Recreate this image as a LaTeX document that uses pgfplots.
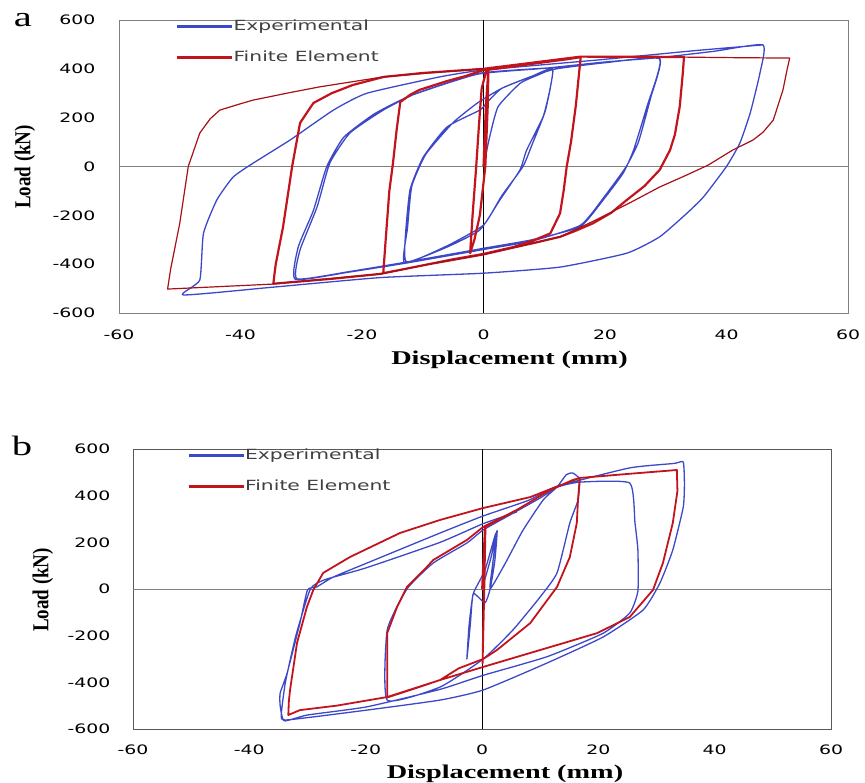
\documentclass[border=0pt]{standalone}
\usepackage{fontspec}
\setmainfont{Liberation Serif}
\usepackage{graphicx}
\usepackage{pgfplots}
\pgfplotsset{compat=1.18}
\newfontfamily\tickfont[FakeStretch=1.45]{DejaVu Sans}
\newfontfamily\legfont[FakeStretch=1.45]{DejaVu Sans}
\newfontfamily\labfont[FakeStretch=1.45]{Liberation Serif}
\definecolor{expblue}{RGB}{60,72,200}
\definecolor{febred}{RGB}{195,20,30}
\pgfplotsset{
  hyst/.style={scale only axis, xmin=-60, xmax=60, ymin=-600, ymax=600,
    major tick length=0pt, tick style={draw=none},
    xtick={-60,-40,-20,0,20,40,60}, xticklabels={-60,-40,-20,0,20,40,60},
    ytick={-600,-400,-200,0,200,400,600}, yticklabels={-600,-400,-200,0,200,400,600},
    ticklabel style={font=\tickfont\fontsize{13}{15}\selectfont},
    extra x ticks={0}, extra x tick labels={}, extra x tick style={grid=major, major grid style={black, line width=0.7pt}},
    extra y ticks={0}, extra y tick labels={}, extra y tick style={grid=major, major grid style={gray, line width=0.7pt}},
    legend image code/.code={\draw[#1, line width=3.2pt] (0pt,0pt) -- (55pt,0pt);},
    legend cell align=left,
    legend style={draw=none, fill=none, inner sep=0pt, row sep=19pt, text=black!75,
      font=\legfont\fontsize{14}{16}\selectfont, nodes={inner sep=0pt},
      at={(rel axis cs:0.077,1)}, anchor=north west},
  }
}
\begin{document}
\begin{tikzpicture}
\path[use as bounding box] (0pt,0pt) rectangle (865pt,-783pt);
% ---------------- panel a ----------------
\begin{axis}[hyst, at={(119pt,-313pt)}, anchor=south west, width=729pt, height=293pt,
  axis line style={draw=black!50, line width=0.8pt},
  xticklabel style={yshift=-13pt}, yticklabel style={xshift=-20pt}]
\addplot[expblue, line width=1.3pt, line join=round, smooth, tension=0.3] coordinates {
(0,0) (1,120) (2.4,245) (6,340) (9,375) (11.4,395) (10.8,300) (9.8,203) (7.1,67) (6,-14) (2.7,-137) (-0.6,-260) (-6,-330) (-12.6,-391)
(-12.9,-301) (-12.1,-96) (-9.9,39) (-6,162) (-0.6,231) (0.5,260) (3,320) (8,370) (11.4,398)
(10.2,230) (8,90) (6.5,0) (3,-120) (0,-240) (-6,-325) (-13,-395)
(-12.5,-250) (-11.8,-80) (-9.5,50) (-5,180) (-1,260) (3,320) (8,370) (12,400) (20,425) (29,440)
(26.9,245) (24.7,67) (23,-27) (19.7,-137) (15.9,-247) (8,-300) (0,-335) (-12.6,-391) (-22,-430) (-30.7,-460)
(-30.2,-342) (-27.4,-166) (-25.3,14) (-22,137) (-16.5,231) (-11,300) (-0.6,382) (11.4,405) (20,425) (29,442)
(27.5,280) (25.5,100) (23.5,0) (20,-120) (16,-240) (8,-305) (0,-340) (-12.6,-395) (-22,-432) (-31,-462)
(-30.5,-330) (-28,-180) (-25.8,0) (-23,120) (-18,215) (-12,290) (-1,378) (10,402) (20,428) (29,446) (38,472) (46,498)
(45.5,382) (43.9,219) (42.2,96) (40,0) (36.2,-125) (33.5,-191) (29,-288) (23.6,-355) (12.6,-412) (0,-437) (-17,-455) (-35,-495) (-49.4,-526)
(-46.7,-465) (-46.1,-274) (-43.9,-137) (-41.2,-43) (-37.9,14) (-31.8,109) (-24.7,231) (-19.2,300) (-7.2,367) (0,395) (18.7,436) (35,475) (46,498)
};
\addlegendentry{Experimental}
\addplot[febred, line width=2.2pt, line join=round] coordinates {
(0,0) (0.4,250) (0.8,395) (0.7,250) (0.3,0) (-0.6,-200) (-1.5,-300) (-2.2,-355) (-1.8,-200) (-1.2,0) (-0.8,150) (-0.6,220) (-0.3,320) (0.5,395)
(5,410) (10,427) (14,440) (16,448) (15.6,350) (15.2,250) (14.4,100) (13.7,0) (13.2,-98) (12.6,-192) (11,-274) (8,-305) (4.9,-330) (0,-358) (-5,-380) (-9,-400) (-13,-420) (-16.5,-437)
(-16.1,-300) (-15.5,-100) (-14.9,14) (-14.3,150) (-13.7,264) (-12,295) (-10.5,314) (-6,350) (-3,370) (0,395) (5,410) (10,427) (16,450)
(25,450) (33,448) (32.8,380) (32.3,245) (31.5,130) (30.7,67) (29,-14) (26.5,-80) (23.6,-137) (21,-190) (18,-233) (15,-265) (12.6,-288) (8,-315) (4.9,-332) (0,-360) (-9,-400) (-17,-440) (-25,-460) (-34.6,-480)
(-34.2,-400) (-33,-248) (-31.5,0) (-30.2,178) (-28,260) (-25,300) (-21.5,334) (-16.4,367) (-10,383) (0,400) (8,425) (16,450) (33,448)
};
\addlegendentry{Finite Element}
\addplot[febred!85!black, line width=1.2pt, line join=round, forget plot] coordinates {
(33,448) (40,446) (50.4,444) (50,400) (49.3,314) (47.7,190) (46,140) (44.4,109) (41,67) (37,6) (33,-40) (29,-84) (24,-150) (18,-225) (12.6,-288) (5,-332) (0,-360) (-9,-400) (-17,-440) (-35,-482) (-52,-502)
(-51.5,-420) (-50,-233) (-48.6,0) (-46.7,137) (-45,195) (-43.4,231) (-40,257) (-37.9,272) (-32,302) (-27,326) (-16.5,367) (-8,385) (0,400)
};
\end{axis}
% ---------------- panel b ----------------
\begin{axis}[hyst, at={(133pt,-729pt)}, anchor=south west, width=698pt, height=280pt,
  axis line style={draw=black!65, line width=0.8pt},
  xticklabel style={yshift=-12pt}, yticklabel style={xshift=-19pt}]
\addplot[expblue, line width=1.3pt, line join=round, smooth, tension=0.3] coordinates {
(0,0) (1.5,130) (2.6,250) (2.2,120) (1.4,0) (0.5,-60) (-1.5,-20) (-2,-150) (-2.6,-300) (-2.2,-150) (-1.5,-20) (0.5,80) (2.4,240) (1.8,100) (1.4,0)
(4,110) (7,250) (10.5,381) (12.9,437) (14.5,490) (15.6,497) (16.8,470) (16.5,380) (15.1,283) (12.9,69) (10,-34) (5.3,-176) (0.2,-300) (-7.2,-420) (-16.3,-476)
(-16.3,-176) (-12.9,0) (-8.4,111) (-2.6,197) (0.2,253) (5,320) (10,390) (13,437) (16.8,458) (25.4,454) (26.3,283) (26.8,167) (26.8,-9) (25.4,-103)
(20.8,-190) (11.2,-290) (0.2,-370) (-7.2,-430) (-19.8,-505) (-30,-540) (-34,-565) (-34.7,-500) (-34.7,-446) (-33.5,-360) (-31.3,-146) (-30,-4) (-28.4,9) (-25.6,51) (-19.8,111) (-7.2,240) (0.2,313) (8,380) (12.9,440) (25.4,519) (33,538) (34.6,544)
(34.8,450) (34.6,351) (32.8,167) (30.6,26) (27.7,-90) (20.8,-206) (11.2,-317) (0.2,-433) (-7.2,-476) (-19.8,-519) (-33.5,-561)
(-34.5,-540) (-33.8,-400) (-32,-200) (-29.5,0) (-27,40) (-20,90) (-7.2,200) (0.2,280) (6,330)
};
\addlegendentry{Experimental}
\addplot[febred, line width=1.8pt, line join=round] coordinates {
(0,0) (0.5,270) (0.3,0) (0.1,-320) (0.4,0) (0.6,266) (6,339) (11.7,424) (15.6,467) (16.8,476) (16.5,380) (16.3,283) (15.1,137) (12.9,9) (8.3,-146) (2.6,-261) (0.2,-300) (-4,-340) (-7.2,-390) (-12,-430) (-16.3,-465)
(-16.3,-300) (-16.3,-189) (-14.6,-77) (-12.9,9) (-9.5,94) (-8.4,124) (-2.6,210) (0.2,266) (6,339) (11.7,424) (15.6,467) (16.8,476)
(25,493) (33.5,510) (33.6,420) (32.8,283) (31.1,111) (29.4,-4) (25.4,-120) (19.8,-189) (14,-232) (8.3,-274) (0.2,-334) (-7.2,-390) (-16.3,-463) (-25,-500) (-31.3,-519) (-33.3,-540)
(-33.2,-480) (-33,-433) (-31.8,-231) (-30.1,-77) (-29,-4) (-27.3,69) (-22.7,137) (-14.1,240) (-7.2,296) (0.2,347) (8.3,394) (13,440) (16.8,476) (25,493) (33.5,510)
};
\addlegendentry{Finite Element}
\end{axis}
% ---------------- labels ----------------
\node[font=\labfont\fontsize{28}{30}\selectfont] at (23pt,-20pt) {a};
\node[font=\labfont\fontsize{28}{30}\selectfont] at (22pt,-446pt) {b};
\node[font=\rmfamily\bfseries\fontsize{19}{21}\selectfont] at (25pt,-167pt) {\scalebox{1.2}[1]{\rotatebox{90}{Load (kN)}}};
\node[font=\rmfamily\bfseries\fontsize{19}{21}\selectfont] at (43pt,-590pt) {\scalebox{1.2}[1]{\rotatebox{90}{Load (kN)}}};
\node[font=\labfont\bfseries\fontsize{19.5}{21}\selectfont] at (509.5pt,-360pt) {Displacement (mm)};
\node[font=\labfont\bfseries\fontsize{19.5}{21}\selectfont] at (505pt,-774pt) {Displacement (mm)};
\end{tikzpicture}
\end{document}
